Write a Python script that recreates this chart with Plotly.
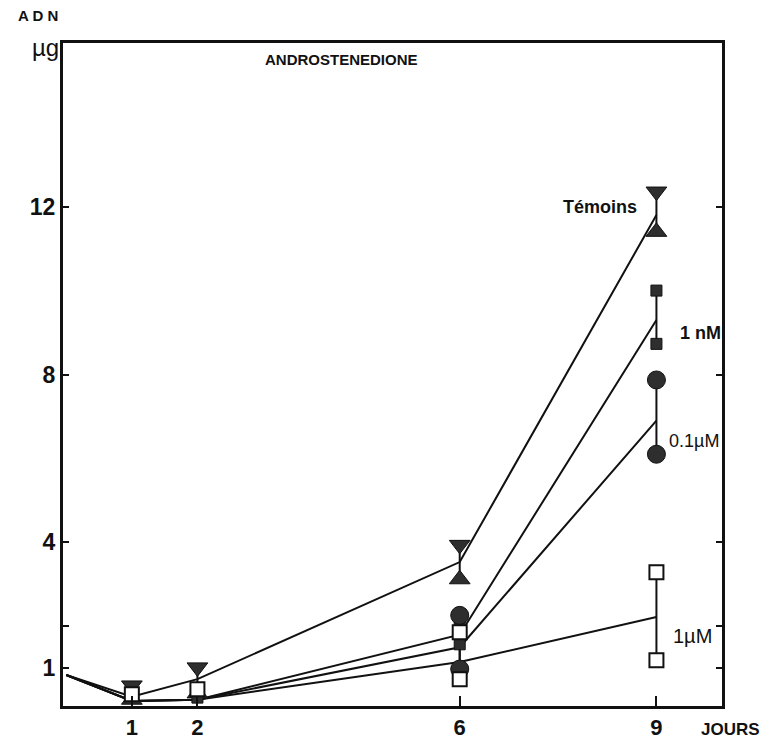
import plotly.graph_objects as go

# ---- data ----
days = [0, 1, 2, 6, 9]
temoins_mean = [0.84, 0.32, 0.74, 3.53, 11.8]
temoins_high = [None, 0.59, 1.02, 3.94, 12.36]
temoins_low = [None, 0.25, 0.40, 3.12, 11.4]

nm1_mean = [0.84, 0.22, 0.25, 1.8, 9.3]
nm1_high = [None, None, 0.30, 2.0, 10.0]
nm1_low = [None, None, None, 1.57, 8.73]

um01_mean = [0.84, 0.22, 0.25, 1.5, 6.9]
um01_high = [None, None, None, 2.26, 7.87]
um01_low = [None, None, None, 0.98, 6.1]

um1_mean = [0.84, 0.22, 0.25, 1.15, 2.22]
um1_high = [None, 0.38, 0.50, 1.86, 3.29]
um1_low = [None, None, None, 0.74, 1.19]

x_ticks = [1, 2, 6, 9]
y_ticks = [1, 2, 4, 8, 12]
y_ticktext = ["1", "", "4", "8", "12"]

# ---- layout geometry ----
L, T, W, H = 63, 43, 659, 663
FIG_W, FIG_H = 768, 744


def px(x):
    return (x - L) / W


def py(y):
    return (T + H - y) / H


INK = "#111111"
FILL = "#2e2e2e"
FONT = "Liberation Sans"

fig = go.Figure()


def err(mean, high, low):
    plus, minus = [], []
    for m, h, l in zip(mean, high, low):
        if h is not None and l is not None:
            plus.append(h - m)
            minus.append(m - l)
        else:
            plus.append(0)
            minus.append(0)
    return plus, minus


series = [
    (temoins_mean, temoins_high, temoins_low),
    (nm1_mean, nm1_high, nm1_low),
    (um01_mean, um01_high, um01_low),
    (um1_mean, um1_high, um1_low),
]
for mean, high, low in series:
    plus, minus = err(mean, high, low)
    fig.add_trace(go.Scatter(
        x=days, y=mean, mode="lines",
        line=dict(color=INK, width=2),
        error_y=dict(type="data", symmetric=False, array=plus, arrayminus=minus,
                     color=INK, thickness=2, width=0),
        hoverinfo="skip", showlegend=False,
    ))


def markers(vals, symbol, size, fill, lw=1.5):
    xs = [d for d, v in zip(days, vals) if v is not None]
    ys = [v for v in vals if v is not None]
    fig.add_trace(go.Scatter(
        x=xs, y=ys, mode="markers",
        marker=dict(symbol=symbol, size=size, color=fill,
                    line=dict(color=INK, width=lw)),
        hoverinfo="skip", showlegend=False,
    ))


markers(temoins_high, "triangle-down", 18, FILL, 1)
markers(temoins_low, "triangle-up", 18, FILL, 1)
markers(nm1_high, "square", 11, FILL, 1)
markers(nm1_low, "square", 11, FILL, 1)
markers(um01_high, "circle", 18, FILL, 1)
markers(um01_low, "circle", 18, FILL, 1)
markers(um1_high, "square", 14, "white", 2)
markers(um1_low, "square", 14, "white", 2)

ann = [
    ("A D N", 38, 16, 15, True),
    ("µg", 45, 48, 24, False),
    ("ANDROSTENEDIONE", 341, 59, 15, True),
    ("Témoins", 600, 207, 18, True),
    ("1 nM", 700, 333, 18, True),
    ("0.1µM", 694, 441, 18, False),
    ("1µM", 692, 636, 20, False),
    ("JOURS", 730, 729, 17, True),
]
for text, x, y, size, bold in ann:
    fig.add_annotation(
        x=px(x), y=py(y), xref="paper", yref="paper",
        text=f"<b>{text}</b>" if bold else text,
        showarrow=False, xanchor="center", yanchor="middle",
        font=dict(family=FONT, size=size, color=INK),
    )

fig.update_layout(
    width=FIG_W, height=FIG_H,
    margin=dict(l=L, r=FIG_W - L - W, t=T, b=FIG_H - T - H, autoexpand=False),
    paper_bgcolor="white", plot_bgcolor="white",
    showlegend=False,
    font=dict(family=FONT, color=INK),
)
fig.update_xaxes(
    range=[-0.05, 10], tickvals=x_ticks, ticktext=[str(v) for v in x_ticks],
    ticks="inside", ticklen=10, tickwidth=2, tickcolor=INK,
    showline=True, linewidth=3, linecolor=INK, mirror=True,
    showgrid=False, zeroline=False, ticklabelstandoff=0, automargin=False,
    tickfont=dict(family=FONT, size=22, color=INK, weight="bold"),
)
fig.update_yaxes(
    range=[0.1, 15.9], tickvals=y_ticks, ticktext=y_ticktext,
    ticks="inside", ticklen=6, tickwidth=2, tickcolor=INK,
    showline=True, linewidth=3, linecolor=INK, mirror="ticks",
    showgrid=False, zeroline=False, automargin=False,
    tickfont=dict(family=FONT, size=23, color=INK, weight="bold"),
)

fig.write_html("out.html")
